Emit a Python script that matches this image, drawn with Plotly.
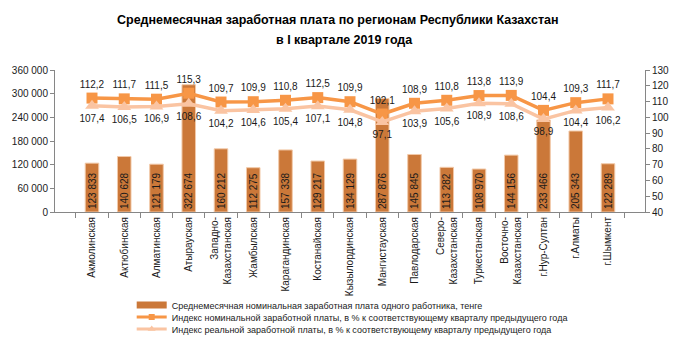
import plotly.graph_objects as go

regions = ["Акмолинская", "Актюбинская", "Алматинская", "Атырауская", "Западно-<br>Казахстанская",
           "Жамбылская", "Карагандинская", "Костанайская", "Кызылординская", "Мангистауская",
           "Павлодарская", "Северо-<br>Казахстанская", "Туркестанская", "Восточно-<br>Казахстанская",
           "г.Нур-Султан", "г.Алматы", "г.Шымкент"]
wage = [123833, 140628, 121179, 322674, 160212, 112275, 157338, 129217, 134129, 287876,
        145845, 113282, 108970, 144156, 233466, 205343, 122289]
nominal_idx = [112.2, 111.7, 111.5, 115.3, 109.7, 109.9, 110.8, 112.5, 109.9, 102.1,
               108.9, 110.8, 113.8, 113.9, 104.4, 109.3, 111.7]
real_idx = [107.4, 106.5, 106.9, 108.6, 104.2, 104.6, 105.4, 107.1, 104.8, 97.1,
            103.9, 105.6, 108.9, 108.6, 98.9, 104.4, 106.2]

names = ["Среднемесячная номинальная заработная плата одного работника, тенге",
         "Индекс номинальной заработной платы, в % к соответствующему кварталу предыдущего года",
         "Индекс реальной заработной платы, в % к соответствующему кварталу предыдущего года"]

FONT = "Liberation Sans"
BAR_C, NOM_C, REAL_C = "#CB7839", "#F79646", "#FAC4A2"

fig = go.Figure()
fig.add_trace(go.Bar(
    x=regions, y=wage, name=names[0], showlegend=False,
    marker=dict(color=BAR_C, line=dict(color="#F2C9A8", width=1)),
    width=0.42,
    text=[f"{v:,}".replace(",", " ") for v in wage],
    textposition="inside", insidetextanchor="start", textangle=-90,
    constraintext="none",
    textfont=dict(size=10, color="#1a1a1a", family=FONT),
    cliponaxis=False,
))
fig.add_trace(go.Scatter(
    x=regions, y=nominal_idx, yaxis="y2", mode="lines+markers+text",
    name=names[1], showlegend=False,
    line=dict(color=NOM_C, width=3.5),
    marker=dict(symbol="square", size=11, color=NOM_C),
    text=[f"{v:.1f}".replace(".", ",") for v in nominal_idx],
    textposition="top center", textfont=dict(size=10, color="#1a1a1a", family=FONT),
    cliponaxis=False,
))
fig.add_trace(go.Scatter(
    x=regions, y=real_idx, yaxis="y2", mode="lines+markers+text",
    name=names[2], showlegend=False,
    line=dict(color=REAL_C, width=3.5),
    marker=dict(symbol="triangle-up", size=12, color=REAL_C),
    text=[f"{v:.1f}".replace(".", ",") for v in real_idx],
    textposition="bottom center", textfont=dict(size=10, color="#1a1a1a", family=FONT),
    cliponaxis=False,
))
# legend swatches (no data)
fig.add_trace(go.Scatter(x=[None], y=[None], mode="lines", name=names[0],
                         line=dict(color=BAR_C, width=7), legend="legend"))
fig.add_trace(go.Scatter(x=[None], y=[None], mode="lines+markers", name=names[1],
                         line=dict(color=NOM_C, width=3), marker=dict(symbol="square", size=6, color=NOM_C),
                         legend="legend2"))
fig.add_trace(go.Scatter(x=[None], y=[None], mode="lines+markers", name=names[2],
                         line=dict(color=REAL_C, width=3), marker=dict(symbol="triangle-up", size=7, color=REAL_C),
                         legend="legend3"))

def leg(ypix):
    return dict(x=0.13, y=(212 - ypix) / 142, xanchor="left", yanchor="middle",
                font=dict(size=9, color="#1a1a1a", family=FONT),
                bgcolor="rgba(0,0,0,0)", itemwidth=30, tracegroupgap=0)

fig.update_layout(
    width=691, height=344,
    margin=dict(l=55, r=46, t=70, b=132, autoexpand=False),
    paper_bgcolor="white", plot_bgcolor="white",
    separators=", ",
    font=dict(family=FONT, size=10, color="#1a1a1a"),
    showlegend=True,
    legend=leg(305), legend2=leg(317), legend3=leg(329),
    annotations=[
        dict(text="<b>Среднемесячная заработная плата по регионам Республики Казахстан</b>",
             xref="paper", yref="paper", x=0.48, y=(212 - 20) / 142, xanchor="center", yanchor="middle",
             showarrow=False, font=dict(size=12.5, color="#000000", family=FONT)),
        dict(text="<b>в I квартале 2019 года</b>",
             xref="paper", yref="paper", x=0.49, y=(212 - 40) / 142, xanchor="center", yanchor="middle",
             showarrow=False, font=dict(size=12.5, color="#000000", family=FONT)),
    ],
    xaxis=dict(type="category", tickangle=-90, tickfont=dict(size=10, color="#1a1a1a"),
               showline=True, linecolor="#868686", ticks="outside", tickson="boundaries",
               ticklen=5, tickcolor="#868686", showgrid=False, automargin=False),
    yaxis=dict(range=[0, 360000], dtick=60000, tickformat=",d", showgrid=False,
               showline=True, linecolor="#868686", ticks="outside", ticklen=4, tickcolor="#868686",
               tickfont=dict(size=10, color="#1a1a1a"), zeroline=False, automargin=False),
    yaxis2=dict(range=[40, 130], dtick=10, overlaying="y", side="right", showgrid=False,
                showline=True, linecolor="#868686", ticks="outside", ticklen=4, tickcolor="#868686",
                tickfont=dict(size=10, color="#1a1a1a"), zeroline=False, automargin=False),
    bargap=0.58,
)

fig.write_html("out.html")
